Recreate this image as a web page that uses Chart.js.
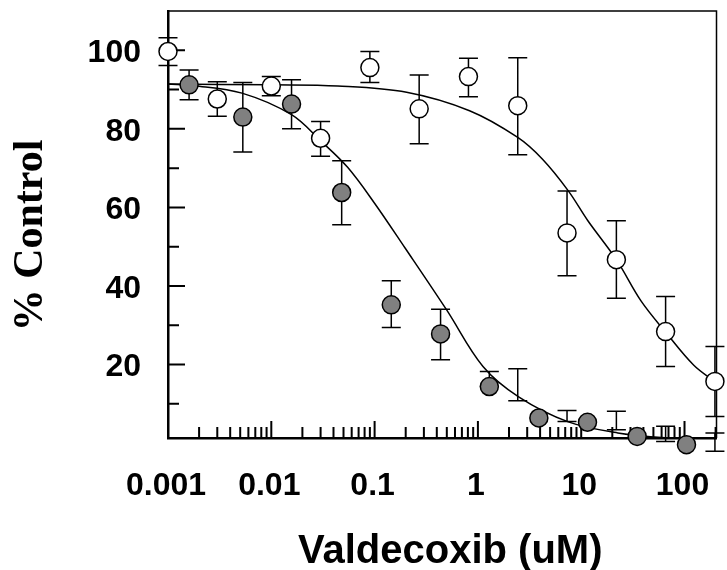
<!DOCTYPE html>
<html>
<head>
<meta charset="utf-8">
<script src="https://cdn.jsdelivr.net/npm/chart.js@4.4.1/dist/chart.umd.min.js"></script>
<style>
    html, body { margin: 0; padding: 0; background: #fff; }
    #wrap { width: 727px; height: 570px; position: relative; }
</style>
</head>
<body>
<div id="wrap"><canvas id="chart"></canvas></div>
<script>
// axis ranges and ticks
const xMin = 0.001;
const xMax = 204;
const yMin = 1.3;
const yMax = 110;
const xTickValues = [0.001, 0.01, 0.1, 1, 10, 100];
const xTickLabels = ['0.001', '0.01', '0.1', '1', '10', '100'];
const yTickValues = [20, 40, 60, 80, 100];
const yMinorValues = [10, 30, 50, 70, 90];

// open circles
const openDose = [0.001, 0.003, 0.01, 0.03, 0.09, 0.27, 0.81, 2.43, 7.29, 21.9, 65.6, 197];
const openValue = [99.7, 87.6, 90.9, 77.6, 95.6, 85.1, 93.3, 85.9, 53.5, 46.7, 28.4, 15.7];
const openErrHi = [103.2, 92.0, 93.3, 81.9, 99.7, 93.7, 98.0, 98.1, 64.2, 56.6, 37.3, 24.6];
const openErrLo = [96.1, 83.2, 88.4, 73.0, 91.8, 76.2, 88.2, 73.4, 42.6, 36.9, 19.5, 6.8];

// grey circles (error bars sit at their own positions in the original)
const grayDose = [0.0016, 0.0053, 0.0157, 0.048, 0.145, 0.435, 1.29, 3.89, 11.5, 34.8, 104.5];
const grayValue = [91.2, 83.0, 86.3, 63.8, 35.2, 27.8, 14.4, 6.4, 5.3, 1.7, -0.4];
const grayBarDose = [0.0016, 0.0053, 0.0157, 0.048, 0.145, 0.435, 1.29, 2.43, 7.29, 21.9, 65.6, 197];
const grayBarHi = [95.0, 91.8, 92.5, 71.9, 41.3, 34.1, 18.2, 18.9, 8.3, 8.1, 4.3, 2.6];
const grayBarLo = [87.4, 74.1, 80.0, 55.6, 29.4, 21.2, 14.4, 10.8, 5.5, 3.4, 0.4, -2.1];

// fitted curves
const openCurveDose = [0.001, 0.01, 0.044, 0.204, 0.83, 2.43, 4.2, 7.5, 11.6, 21.9, 37.9, 65.8, 123, 200];
const openCurveValue = [91.4, 91.2, 90.9, 89.3, 84.6, 77.8, 72.3, 64.2, 56.6, 46.7, 36.2, 28.2, 19.8, 15.5];
const grayCurveDose = [0.001, 0.0018, 0.0052, 0.0157, 0.0305, 0.0548, 0.0991, 0.198, 0.498, 1.12, 2.5, 7.5, 22.6, 70, 200];
const grayCurveValue = [91.4, 91.0, 89.1, 83.6, 76.8, 70.2, 61.2, 49.6, 33.9, 19.5, 11.7, 5.4, 2.6, 1.3, 0.8];

const toPoints = (xs, ys) => xs.map((x, i) => ({ x, y: ys[i] }));

const framePlugin = {
    id: 'frame',
    beforeDatasetsDraw(chart) {
        const { ctx, chartArea: a, scales: { x, y } } = chart;
        ctx.save();
        ctx.strokeStyle = '#000';

        // top and right border
        ctx.lineWidth = 1.5;
        ctx.beginPath();
        ctx.moveTo(a.left, a.top);
        ctx.lineTo(a.right, a.top);
        ctx.lineTo(a.right, a.bottom);
        ctx.stroke();

        // inward tick marks
        ctx.lineWidth = 2;
        ctx.beginPath();
        xTickValues.forEach((d) => {
            for (let m = 1; m <= 9; m++) {
                const v = d * m;
                if (v > xMax) break;
                const px = x.getPixelForValue(v);
                ctx.moveTo(px, a.bottom);
                ctx.lineTo(px, a.bottom - (m === 1 ? 17 : 11));
            }
        });
        yTickValues.forEach((v) => {
            const py = y.getPixelForValue(v);
            ctx.moveTo(a.left, py);
            ctx.lineTo(a.left + 17, py);
        });
        yMinorValues.forEach((v) => {
            const py = y.getPixelForValue(v);
            ctx.moveTo(a.left, py);
            ctx.lineTo(a.left + 11, py);
        });
        ctx.stroke();

        // error bars
        const cap = 9.5;
        ctx.lineWidth = 1.5;
        ctx.beginPath();
        const bars = (doses, hi, lo) => {
            doses.forEach((d, i) => {
                const px = x.getPixelForValue(d);
                const t = y.getPixelForValue(hi[i]);
                const b = y.getPixelForValue(lo[i]);
                ctx.moveTo(px, t); ctx.lineTo(px, b);
                ctx.moveTo(px - cap, t); ctx.lineTo(px + cap, t);
                ctx.moveTo(px - cap, b); ctx.lineTo(px + cap, b);
            });
        };
        bars(openDose, openErrHi, openErrLo);
        bars(grayBarDose, grayBarHi, grayBarLo);
        ctx.stroke();
        ctx.restore();
    },
    afterDraw(chart) {
        const { ctx, chartArea: a } = chart;
        ctx.save();
        ctx.fillStyle = '#000';
        ctx.textAlign = 'center';
        ctx.textBaseline = 'alphabetic';
        ctx.font = 'bold 40px "Liberation Sans", Arial, sans-serif';
        ctx.fillText('Valdecoxib (uM)', (a.left + a.right) / 2 + 8, a.bottom + 125);
        ctx.translate(42, (a.top + a.bottom) / 2 + 11);
        ctx.rotate(-Math.PI / 2);
        ctx.font = 'bold 42px "Liberation Serif", "Times New Roman", serif';
        ctx.fillText('% Control', 0, 0);
        ctx.restore();
    }
};

const tickFont = { family: 'Liberation Sans', size: 32, weight: 'bold' };

new Chart(document.getElementById('chart'), {
    type: 'scatter',
    data: {
        datasets: [
            {
                label: 'Open',
                data: toPoints(openDose, openValue),
                pointRadius: 9,
                pointBackgroundColor: '#ffffff',
                pointBorderColor: '#000000',
                pointBorderWidth: 1.5,
                clip: false
            },
            {
                label: 'Filled',
                data: toPoints(grayDose, grayValue),
                pointRadius: 9,
                pointBackgroundColor: '#808080',
                pointBorderColor: '#000000',
                pointBorderWidth: 1.5,
                clip: false
            },
            {
                type: 'line',
                label: 'Open fit',
                data: toPoints(openCurveDose, openCurveValue),
                borderColor: '#000',
                borderWidth: 1.5,
                pointRadius: 0,
                tension: 0.35,
                fill: false
            },
            {
                type: 'line',
                label: 'Filled fit',
                data: toPoints(grayCurveDose, grayCurveValue),
                borderColor: '#000',
                borderWidth: 1.5,
                pointRadius: 0,
                tension: 0.35,
                fill: false
            }
        ]
    },
    options: {
        responsive: true,
        maintainAspectRatio: false,
        animation: false,
        layout: { padding: { top: 11, right: 4, bottom: 0, left: 0 } },
        plugins: {
            legend: { display: false },
            tooltip: { enabled: false }
        },
        scales: {
            x: {
                type: 'logarithmic',
                min: xMin,
                max: xMax,
                afterBuildTicks: (s) => { s.ticks = xTickValues.map((v) => ({ value: v })); },
                afterFit: (s) => { s.height = 132; s.paddingLeft = 0; s.paddingRight = 0; },
                ticks: {
                    callback: (v, i) => xTickLabels[i],
                    autoSkip: false,
                    maxRotation: 0,
                    minRotation: 0,
                    padding: 29,
                    labelOffset: -2,
                    color: '#000',
                    font: tickFont
                },
                grid: { display: false, drawTicks: false },
                border: { color: '#000', width: 2.5 }
            },
            y: {
                type: 'linear',
                min: yMin,
                max: yMax,
                afterBuildTicks: (s) => { s.ticks = yTickValues.map((v) => ({ value: v })); },
                afterFit: (s) => { s.width = 168; s.paddingTop = 0; s.paddingBottom = 0; },
                ticks: {
                    callback: (v) => String(v),
                    padding: 27,
                    labelOffset: 3,
                    color: '#000',
                    font: tickFont
                },
                grid: { display: false, drawTicks: false },
                border: { color: '#000', width: 2.5 }
            }
        }
    },
    plugins: [framePlugin]
});
</script>
</body>
</html>
